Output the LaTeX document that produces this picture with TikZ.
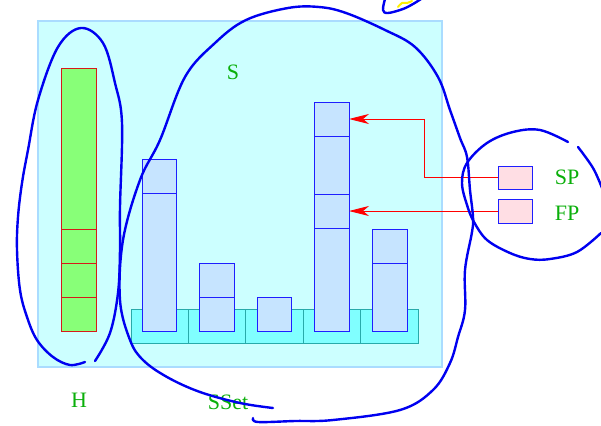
\documentclass[tikz,border=0pt]{standalone}
\usepackage{fontspec}
\setmainfont{Liberation Serif}
\usetikzlibrary{arrows.meta}
\definecolor{bgcyan}{RGB}{204,255,255}
\definecolor{bgedge}{RGB}{170,220,255}
\definecolor{stripfill}{RGB}{128,255,255}
\definecolor{stripedge}{RGB}{40,170,170}
\definecolor{boxfill}{RGB}{198,228,255}
\definecolor{boxedge}{RGB}{30,30,255}
\definecolor{gfill}{RGB}{136,255,120}
\definecolor{gedge}{RGB}{215,25,25}
\definecolor{pfill}{RGB}{255,222,228}
\definecolor{lblgreen}{RGB}{10,175,10}
\definecolor{penblue}{RGB}{0,0,240}
\definecolor{penyellow}{RGB}{255,240,0}
\tikzset{
  basebox/.style={anchor=north west, inner sep=0pt, outer sep=0pt, line width=1pt},
  bgbox/.style={basebox, fill=bgcyan, draw=bgedge, line width=1.2pt},
  stripcell/.style={basebox, fill=stripfill, draw=stripedge, minimum width=57.4pt, minimum height=34pt},
  bcell/.style={basebox, fill=boxfill, draw=boxedge},
  gcell/.style={basebox, fill=gfill, draw=gedge, line width=1.2pt, minimum width=35pt},
  gline/.style={draw=gedge, line width=1.6pt},
  pcell/.style={basebox, fill=pfill, draw=boxedge, minimum width=34pt},
  lbl/.style={text=lblgreen, inner sep=0pt, font=\fontsize{22}{22}\selectfont},
  arr/.style={draw=red, line width=0.9pt, -{Stealth[length=20pt,width=10pt,inset=6pt]}},
  pen/.style={draw=penblue, line width=2.4pt, line cap=round, line join=round},
}
\begin{document}
\begin{tikzpicture}[x=1pt,y=-1pt]
\useasboundingbox (0,0) rectangle (601,425);
\fill[white] (0,0) rectangle (601,425);
% background
\node[bgbox, minimum width=404pt, minimum height=346pt] (bg) at (38,21) {};
% strip
\node[stripcell] (s1) at (131,309) {};
\node[stripcell] (s2) at (188.4,309) {};
\node[stripcell] (s3) at (245.8,309) {};
\node[stripcell] (s4) at (303.2,309) {};
\node[stripcell] (s5) at (360.6,309) {};
% columns
\node[bcell, minimum width=34pt, minimum height=34pt] (c1a) at (142,159) {};
\node[bcell, minimum width=34pt, minimum height=138pt] (c1b) at (142,193) {};
\node[bcell, minimum width=35pt, minimum height=34pt] (c2a) at (199,263) {};
\node[bcell, minimum width=35pt, minimum height=34pt] (c2b) at (199,297) {};
\node[bcell, minimum width=34pt, minimum height=34pt] (c3a) at (257,297) {};
\node[bcell, minimum width=35pt, minimum height=34pt] (c4a) at (314,102) {};
\node[bcell, minimum width=35pt, minimum height=58pt] (c4b) at (314,136) {};
\node[bcell, minimum width=35pt, minimum height=34pt] (c4c) at (314,194) {};
\node[bcell, minimum width=35pt, minimum height=103pt] (c4d) at (314,228) {};
\node[bcell, minimum width=35pt, minimum height=34pt] (c5a) at (372,229) {};
\node[bcell, minimum width=35pt, minimum height=68pt] (c5b) at (372,263) {};
% green bar
\node[gcell, minimum height=161pt] (g1) at (61.5,68.5) {};
\node[gcell, minimum height=34pt] (g2) at (61.5,229.5) {};
\node[gcell, minimum height=34pt] (g3) at (61.5,263.5) {};
\node[gcell, minimum height=34pt] (g4) at (61.5,297.5) {};
\draw[gline] (g2.north west) -- (g2.north east);
\draw[gline] (g3.north west) -- (g3.north east);
\draw[gline] (g4.north west) -- (g4.north east);
% pointers
\node[pcell, minimum height=23pt] (sp) at (498,166) {};
\node[pcell, minimum height=24pt] (fp) at (498,199) {};
\draw[arr] (sp.west) -- ++(-74,0) |- (c4a.east);
\draw[arr] (fp.west) -- (c4c.east);
% labels
\node[lbl] (lS) at (233,72) {S};
\node[lbl] (lH) at (79,400) {H};
\node[lbl] (lSSet) at (228,402) {SSet};
\node[lbl] (lSP) at (567,177) {SP};
\node[lbl] (lFP) at (567,213) {FP};
% hand-drawn strokes
\draw[pen] plot[smooth, tension=0.6] coordinates {(95,361) (110,333) (118,293) (120,250) (120,207) (122,123) (115,83) (103,43) (81,28) (58,47) (38,100) (28,150) (22,183) (18,217) (17,250) (20,290) (27,317) (37,340) (53,357) (70,365) (85,362)};
\draw[pen] plot[smooth, tension=0.6] coordinates {(253,418) (258,422) (295,421) (333,420) (400,410) (433,390) (450,363) (458,337) (465,310) (465,270) (472,232) (473,217) (470,190) (467,157) (460,138) (450,110) (438,77) (415,47) (385,30) (346,13) (319,7) (288,8) (246,20) (215,43) (185,77) (160,140) (140,180) (123,240) (120,300) (130,340) (143,360) (167,377) (200,392) (240,403) (273,408)};
\draw[pen] plot[smooth, tension=0.6] coordinates {(568,142) (540,130) (513,132) (487,143) (467,163) (462,183) (467,205) (474,222) (487,240) (510,253) (530,259) (550,259) (577,252) (601,233)};
\draw[pen] plot[smooth, tension=0.6] coordinates {(578,147) (593,168) (602,188)};
\draw[pen] plot[smooth, tension=0.6] coordinates {(385,-1) (383,10) (388,13) (403,9) (413,4) (421,-1)};
\draw[draw=penyellow, line width=2pt, line cap=round] plot[smooth, tension=0.6] coordinates {(398,7) (402,3) (407,3) (412,1)};
\end{tikzpicture}
\end{document}
